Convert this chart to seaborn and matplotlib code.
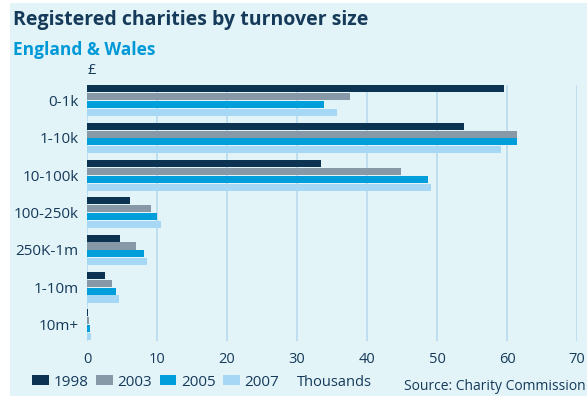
import matplotlib
matplotlib.use("Agg")
import matplotlib.pyplot as plt
import seaborn as sns
import pandas as pd
from matplotlib.patches import Rectangle

# Turnover bands and number of registered charities (thousands)
bands = ["0-1k", "1-10k", "10-100k", "100-250k", "250K-1m", "1-10m", "10m+"]
years = ["1998", "2003", "2005", "2007"]
counts_1998 = [59.5, 53.8, 33.4, 6.2, 4.7, 2.5, 0.2]
counts_2003 = [37.5, 61.4, 44.8, 9.1, 7.0, 3.5, 0.3]
counts_2005 = [33.8, 61.4, 48.7, 10.0, 8.1, 4.1, 0.4]
counts_2007 = [35.7, 59.2, 49.1, 10.5, 8.5, 4.5, 0.55]
x_ticks = [0, 10, 20, 30, 40, 50, 60, 70]

palette = ["#0D3352", "#8799A6", "#009FDC", "#A6D8F5"]
bg = "#E2F4F8"
navy = "#163A5A"

rows = []
for yr, vals in zip(years, [counts_1998, counts_2003, counts_2005, counts_2007]):
    for b, v in zip(bands, vals):
        rows.append({"band": b, "year": yr, "count": v})
df = pd.DataFrame(rows)

sns.set_style("white")
plt.rcParams["font.family"] = ["Open Sans", "DejaVu Sans"]

fig = plt.figure(figsize=(5.87, 3.96), dpi=100)
fig.patch.set_facecolor("white")
fig.patches.append(Rectangle((10 / 587, 0), 1, 1 - 3 / 396, transform=fig.transFigure,
                             facecolor=bg, edgecolor="none", zorder=-10))

ax = fig.add_axes([87 / 587, 1 - 341 / 396, 490 / 587, 256 / 396])
ax.set_facecolor(bg)

sns.barplot(data=df, y="band", x="count", hue="year", order=bands, hue_order=years,
            palette=palette, orient="h", width=0.84, gap=0.1, saturation=1,
            linewidth=0, ax=ax)

ax.set_xlim(0, 70)
ax.set_ylim(6.44, -0.42)
ax.set_xticks(x_ticks)
ax.set_xticklabels([str(t) for t in x_ticks])
ax.xaxis.grid(True, color="#BCDDF0", linewidth=1.3)
ax.set_axisbelow(True)
for s in ax.spines.values():
    s.set_visible(False)
ax.tick_params(axis="both", length=0, colors=navy)
ax.tick_params(axis="x", pad=8, labelsize=10.5)
ax.tick_params(axis="y", pad=6, labelsize=11)
ax.set_xlabel("")
ax.set_ylabel("")

handles, labels = ax.get_legend_handles_labels()
ax.legend(handles, labels, ncol=4, loc="center left",
          bbox_to_anchor=(32 / 587, 1 - 382 / 396), bbox_transform=fig.transFigure,
          frameon=False, handlelength=1.1, handleheight=0.6, handletextpad=0.3,
          columnspacing=0.5, fontsize=11, labelcolor=navy, borderaxespad=0,
          borderpad=0)

fig.text(13 / 587, 1 - 20 / 396, "Registered charities by turnover size",
         fontsize=14, fontweight="bold", color=navy, va="center", ha="left")
fig.text(13 / 587, 1 - 50 / 396, "England & Wales",
         fontsize=12.5, fontweight="bold", color="#0099D8", va="center", ha="left")
fig.text(88 / 587, 1 - 71 / 396, "£", fontsize=10.5, color=navy, va="center", ha="left")
fig.text(297 / 587, 1 - 383 / 396, "Thousands", fontsize=10.5, color=navy,
         va="center", ha="left")
fig.text(586 / 587, 1 - 386 / 396, "Source: Charity Commission", fontsize=10,
         color=navy, va="center", ha="right")

fig.savefig("out.png", dpi=100, facecolor=fig.get_facecolor())
